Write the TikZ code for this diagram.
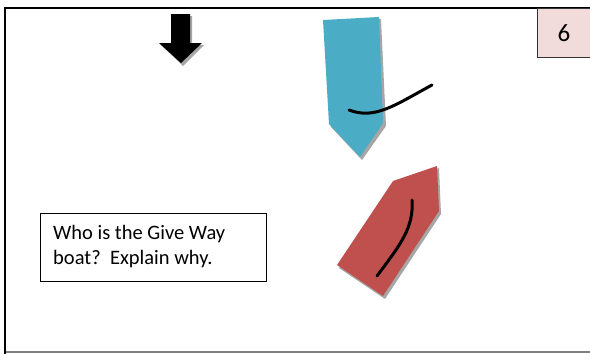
\documentclass[tikz,border=0pt]{standalone}
\usepackage{fontspec}
\setmainfont{Carlito}
\definecolor{boatblue}{HTML}{4BACC6}
\definecolor{boatred}{HTML}{C0504D}
\definecolor{numpink}{HTML}{F2DCDB}
\definecolor{shadowgray}{HTML}{A6A6A6}
\begin{document}
\begin{tikzpicture}[x=1pt,y=-1pt,
  frameline/.style={line width=2.2pt,black},
  wakeline/.style={line width=3pt,black,line cap=round},
  shadowfill/.style={fill=shadowgray,draw=none}]
\useasboundingbox (0,0) rectangle (590,354);
% frame
\draw[line width=1.2pt,gray] (5,352) -- (590,352);
\draw[frameline] (590,8) -- (5,8) -- (5,354);
% number box
\node[draw=black!80,line width=0.8pt,fill=numpink,minimum width=53pt,minimum height=49pt,anchor=north west,inner sep=0pt,font=\fontsize{25}{29}\selectfont] (num) at (537,8) {6};
% down arrow
\fill[shadowgray] (173,16) -- (192,16) -- (192,45) -- (204,45) -- (183,66) -- (161,45) -- (173,45) -- cycle;
\fill[black] (171,14) -- (190,14) -- (190,43) -- (202,43) -- (181,63) -- (159,43) -- (171,43) -- cycle;
% blue boat
\fill[shadowfill] (325,22) -- (381,19) -- (386,126) -- (362,160) -- (331,127) -- cycle;
\fill[boatblue] (323,20) -- (379,17) -- (383,123) -- (360,157) -- (329,124) -- cycle;
\draw[wakeline] (349,110) .. controls (375,120) and (395,105) .. (432,85);
% red boat
\fill[shadowfill] (395,183) -- (439,168) -- (441,214) -- (385,299) -- (339,268) -- cycle;
\fill[boatred] (393,181) -- (437,166) -- (439,211) -- (383,296) -- (337,265) -- cycle;
\draw[wakeline] (412,200) .. controls (414,228) and (400,245) .. (377,276);
% text box
\node[draw=black,line width=0.9pt,minimum width=226pt,minimum height=68pt,anchor=north west,inner sep=0pt] (q) at (40,213) {};
\node[anchor=north west,align=left,inner sep=0pt,font=\fontsize{20.5}{25}\selectfont] (qt) at (53,225) {Who is the Give Way\\boat?\ \ Explain why.};
\end{tikzpicture}
\end{document}
